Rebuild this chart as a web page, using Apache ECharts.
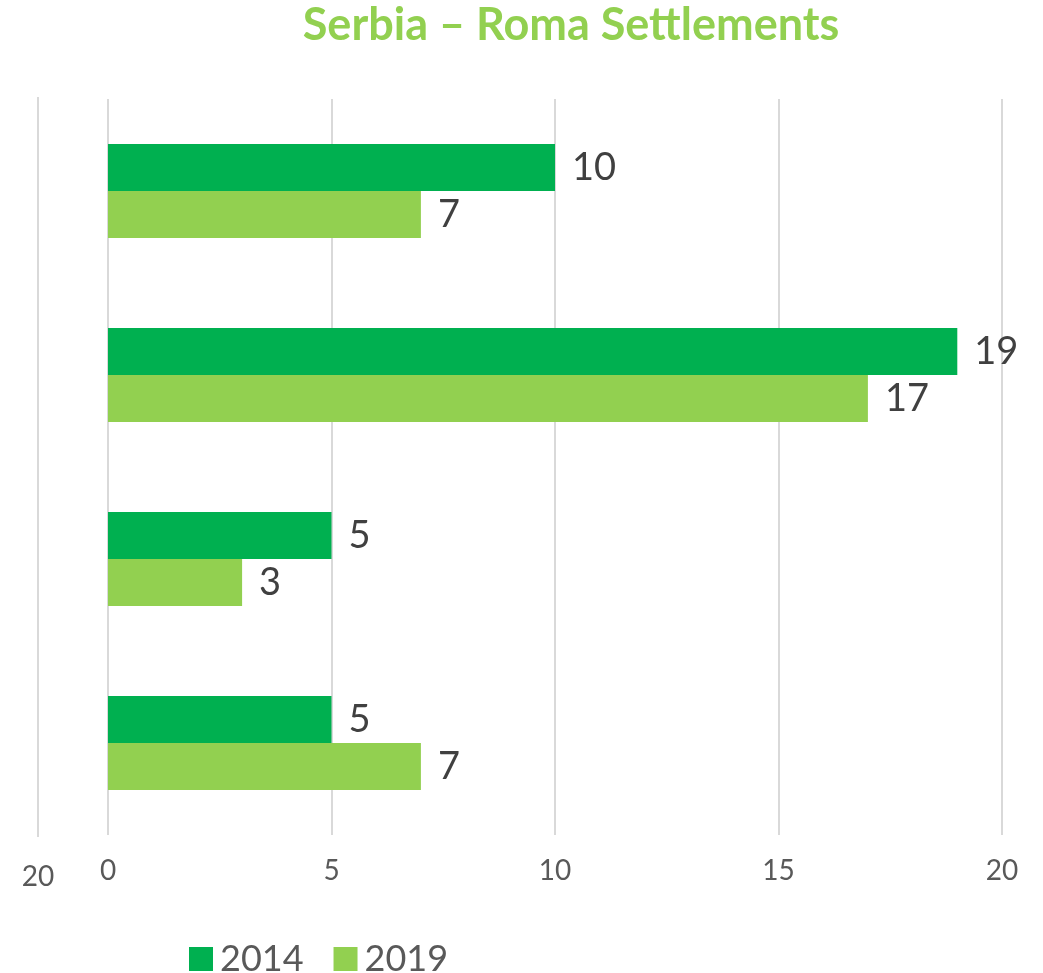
<!DOCTYPE html>
<html><head><meta charset="utf-8">
<script src="https://cdn.jsdelivr.net/npm/echarts@6/dist/echarts.min.js"></script>
<style>html,body{margin:0;padding:0;background:#fff}#c{width:1043px;height:973px}</style>
</head><body><div id="c"></div>
<script>
const categories = ['A', 'B', 'C', 'D'];
const seriesNames = ['2014', '2019'];
const values2014 = [10, 19, 5, 5];
const values2019 = [7, 17, 3, 7];
const titleText = 'Serbia – Roma Settlements';

const chart = echarts.init(document.getElementById('c'));
const FONT = 'Lato';
chart.setOption({
  animation: false,
  backgroundColor: '#fff',
  title: {
    text: titleText, left: 566, top: -2, textAlign: 'center',
    textStyle: { color: '#92D050', fontSize: 45, fontWeight: 'bold', fontFamily: FONT }
  },
  legend: {
    data: seriesNames, left: 184, top: 936, itemWidth: 24, itemHeight: 24, itemGap: 30,
    icon: 'rect',
    textStyle: { color: '#595959', fontSize: 36, fontFamily: FONT, padding: [0, 0, 0, 2] }
  },
  grid: [
    { left: 108, right: 41, top: 99, bottom: 138 },
    { left: 38, width: 100, top: 97, bottom: 136 }
  ],
  xAxis: [
    { type: 'value', gridIndex: 0, min: 0, max: 20, interval: 5,
      axisLine: { show: false }, axisTick: { show: false },
      splitLine: { lineStyle: { color: '#d9d9d9', width: 2 } },
      axisLabel: { color: '#595959', fontSize: 28, fontFamily: FONT, margin: 22 } },
    { type: 'value', gridIndex: 1, min: 20, max: 30, interval: 20,
      axisLine: { show: false }, axisTick: { show: false },
      splitLine: { showMaxLine: false, lineStyle: { color: '#d9d9d9', width: 2 } },
      axisLabel: { showMaxLabel: false, color: '#595959', fontSize: 28, fontFamily: FONT, margin: 26 } }
  ],
  yAxis: [
    { type: 'category', gridIndex: 0, data: categories, inverse: true,
      axisLine: { show: false }, axisTick: { show: false }, axisLabel: { show: false } },
    { type: 'category', gridIndex: 1, data: categories, show: false }
  ],
  series: [
    { name: seriesNames[0], type: 'bar', data: values2014, barWidth: 47, barGap: '0%',
      itemStyle: { color: '#00B050' },
      label: { show: true, position: 'right', distance: 17, color: '#404040', fontSize: 38, fontFamily: FONT } },
    { name: seriesNames[1], type: 'bar', data: values2019, barWidth: 47, barGap: '0%',
      itemStyle: { color: '#92D050' },
      label: { show: true, position: 'right', distance: 17, color: '#404040', fontSize: 38, fontFamily: FONT } }
  ]
});
</script></body></html>
